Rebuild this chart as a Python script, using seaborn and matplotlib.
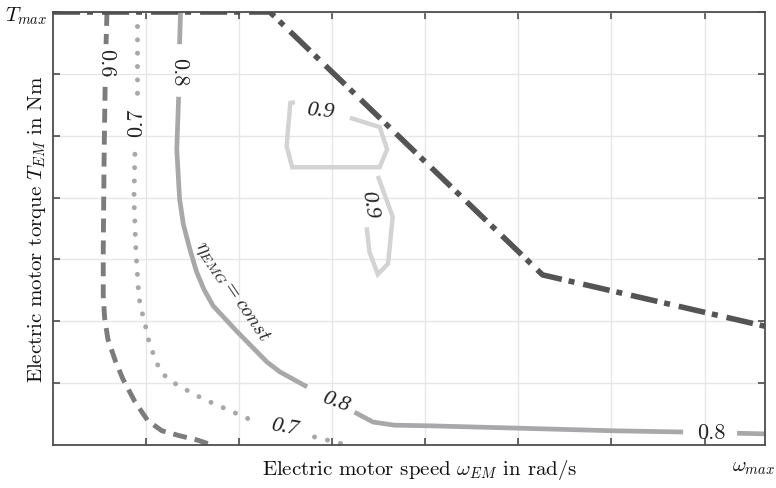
import numpy as np
import pandas as pd
import matplotlib
matplotlib.use("Agg")
import matplotlib.pyplot as plt
import seaborn as sns

# ---------------- data (normalised units: x in [0, 7.65], y in [0, 7]) ----------------
x_max = 7.65
t_max = 7.0

# maximum torque envelope
tmax_x = [0.0, 2.33, 5.26, 7.65]
tmax_y = [7.0, 7.0, 2.75, 1.92]

# efficiency contour 0.6 (segments split where labels sit)
c06_seg = [0, 0, 1, 1, 1, 1, 1, 1, 1, 1, 1, 1, 1, 1, 1, 1]
c06_x = [0.58, 0.57, 0.56, 0.55, 0.54, 0.54, 0.555, 0.59, 0.67, 0.75, 0.88, 1.02, 1.17, 1.36, 1.55, 1.71]
c06_y = [7.00, 6.48, 5.79, 4.78, 3.17, 2.41, 2.05, 1.71, 1.36, 1.07, 0.70, 0.39, 0.23, 0.15, 0.08, 0.00]

# efficiency contour 0.7
c07_seg = [0, 0, 1, 1, 1, 1, 1, 1, 1, 1, 1, 1, 1, 1, 1, 1, 1, 2, 2, 2]
c07_x = [0.90, 0.90, 0.88, 0.87, 0.89, 0.92, 0.94, 0.98, 1.01, 1.04, 1.10, 1.15, 1.25, 1.37, 1.62, 1.88, 2.15,
         2.81, 3.08, 3.13]
c07_y = [6.77, 5.67, 4.70, 3.98, 3.17, 2.44, 2.23, 2.02, 1.81, 1.62, 1.39, 1.20, 1.05, 0.94, 0.74, 0.57, 0.39,
         0.13, 0.03, 0.00]

# efficiency contour 0.8
c08_seg = [0, 0, 1, 1, 1, 1, 1, 1, 1, 1, 1, 1, 1, 1, 2, 2, 2, 2, 2, 2, 2, 3, 3]
c08_x = [1.37, 1.36, 1.35, 1.33, 1.36, 1.40, 1.47, 1.54, 1.62, 1.72, 1.98, 2.30, 2.44, 2.73,
         3.24, 3.44, 3.67, 4.05, 5.05, 6.02, 6.77, 7.35, 7.65]
c08_y = [7.00, 6.48, 5.63, 4.78, 3.98, 3.57, 3.17, 2.81, 2.52, 2.25, 1.83, 1.34, 1.18, 0.94,
         0.53, 0.37, 0.32, 0.31, 0.27, 0.23, 0.21, 0.19, 0.18]

# efficiency contour 0.9 (two islands)
c09_seg = [0, 0, 0, 0, 0, 0, 0, 0, 1, 1, 1, 1, 1, 1]
c09_x = [2.60, 2.55, 2.51, 2.57, 3.51, 3.59, 3.51, 3.19, 3.49, 3.65, 3.60, 3.49, 3.40, 3.37]
c09_y = [5.54, 5.53, 4.83, 4.49, 4.49, 4.78, 5.14, 5.29, 4.35, 3.69, 2.93, 2.76, 3.12, 3.52]

# contour labels: text, x, y, rotation, italic
lab_text = ["0.6", "0.7", "0.8", "0.7", "0.8", "0.8", "0.9", "0.9"]
lab_x = [0.57, 0.90, 1.35, 2.49, 3.04, 7.07, 2.87, 3.39]
lab_y = [6.19, 5.22, 6.05, 0.29, 0.71, 0.21, 5.40, 3.90]
lab_rot = [-90, 90, -90, -10, -20, 0, -5, -80]
lab_ital = [False, False, False, True, True, False, True, True]

x_ticks = [1, 2, 3, 4, 5, 6, 7]
y_ticks = [1, 2, 3, 4, 5, 6, t_max]
y_ticklabels = ["", "", "", "", "", "", r"$T_{max}$"]
x_end_label = r"$\omega_{max}$"

# ---------------- style ----------------
sns.set_style("ticks")
plt.rcParams["font.family"] = ["cmr10", "DejaVu Serif"]
plt.rcParams["mathtext.fontset"] = "cm"
plt.rcParams["axes.unicode_minus"] = False
plt.rcParams["axes.formatter.use_mathtext"] = True
plt.rcParams["lines.scale_dashes"] = False

fig = plt.figure(figsize=(7.76, 4.89), dpi=100)
ax = fig.add_axes([53 / 776, 1 - 446 / 489, 712 / 776, 433 / 489])

ax.grid(True, color="#e6e6e6", lw=1.0, zorder=0)
ax.set_axisbelow(True)


def draw(seg, xs, ys, **kw):
    df = pd.DataFrame({"seg": seg, "x": xs, "y": ys})
    sns.lineplot(data=df, x="x", y="y", units="seg", estimator=None, sort=False,
                 ax=ax, legend=False, **kw)


draw(c09_seg, c09_x, c09_y, color="#d3d3d3", lw=3.2, solid_capstyle="butt", solid_joinstyle="miter")
draw(c08_seg, c08_x, c08_y, color="#a8a8aa", lw=3.4, solid_capstyle="butt")
draw(c07_seg, c07_x, c07_y, color="#a8a8aa", lw=3.6, linestyle=(0, (0.01, 9.6)), dash_capstyle="round")
draw(c06_seg, c06_x, c06_y, color="#7c7c7e", lw=3.5, linestyle=(0, (10.0, 5.8)), dash_capstyle="butt")
draw([0] * len(tmax_x), tmax_x, tmax_y, color="#545454", lw=4.0,
     linestyle=(0, (19.5, 5.0, 4.3, 6.5)), dash_capstyle="butt")

for t, x, y, r, it in zip(lab_text, lab_x, lab_y, lab_rot, lab_ital):
    if it:
        ax.text(x, y, t, rotation=r, ha="center", va="center", fontsize=16,
                family="Liberation Serif", style="italic", color="#222222", rotation_mode="anchor")
    else:
        ax.text(x, y, t, rotation=r, ha="center", va="center", fontsize=16,
                color="#222222", rotation_mode="anchor")

ax.text(1.92, 2.49, r"$\eta_{EMG} = const$", rotation=-56, ha="center", va="center",
        fontsize=14.5, color="#222222", rotation_mode="anchor")

ax.set_xlim(0, x_max)
ax.set_ylim(0, t_max)
ax.set_xticks(x_ticks)
ax.set_xticklabels([""] * len(x_ticks))
ax.set_yticks(y_ticks)
ax.set_yticklabels(y_ticklabels)
ax.tick_params(direction="in", length=5, width=1.2, color="#4d4d4d",
               top=True, right=True, labelsize=15, labelcolor="#111111")
ax.tick_params(axis="y", pad=4)

ax.annotate(x_end_label, xy=(x_max, 0), xycoords="data", xytext=(7, -16),
            textcoords="offset points", ha="right", va="center", fontsize=15,
            color="#111111", annotation_clip=False)

for s in ax.spines.values():
    s.set_color("#4d4d4d")
    s.set_linewidth(1.3)
    s.set_visible(True)

ax.set_xlabel(r"Electric motor speed $\omega_{EM}$ in rad/s", fontsize=15, color="#111111")
ax.set_ylabel(r"Electric motor torque $T_{EM}$ in Nm", fontsize=15, color="#111111")
ax.xaxis.set_label_coords(0.515, -0.028)
ax.yaxis.set_label_coords(-0.007, 0.5)

fig.savefig("out.png", dpi=100)
